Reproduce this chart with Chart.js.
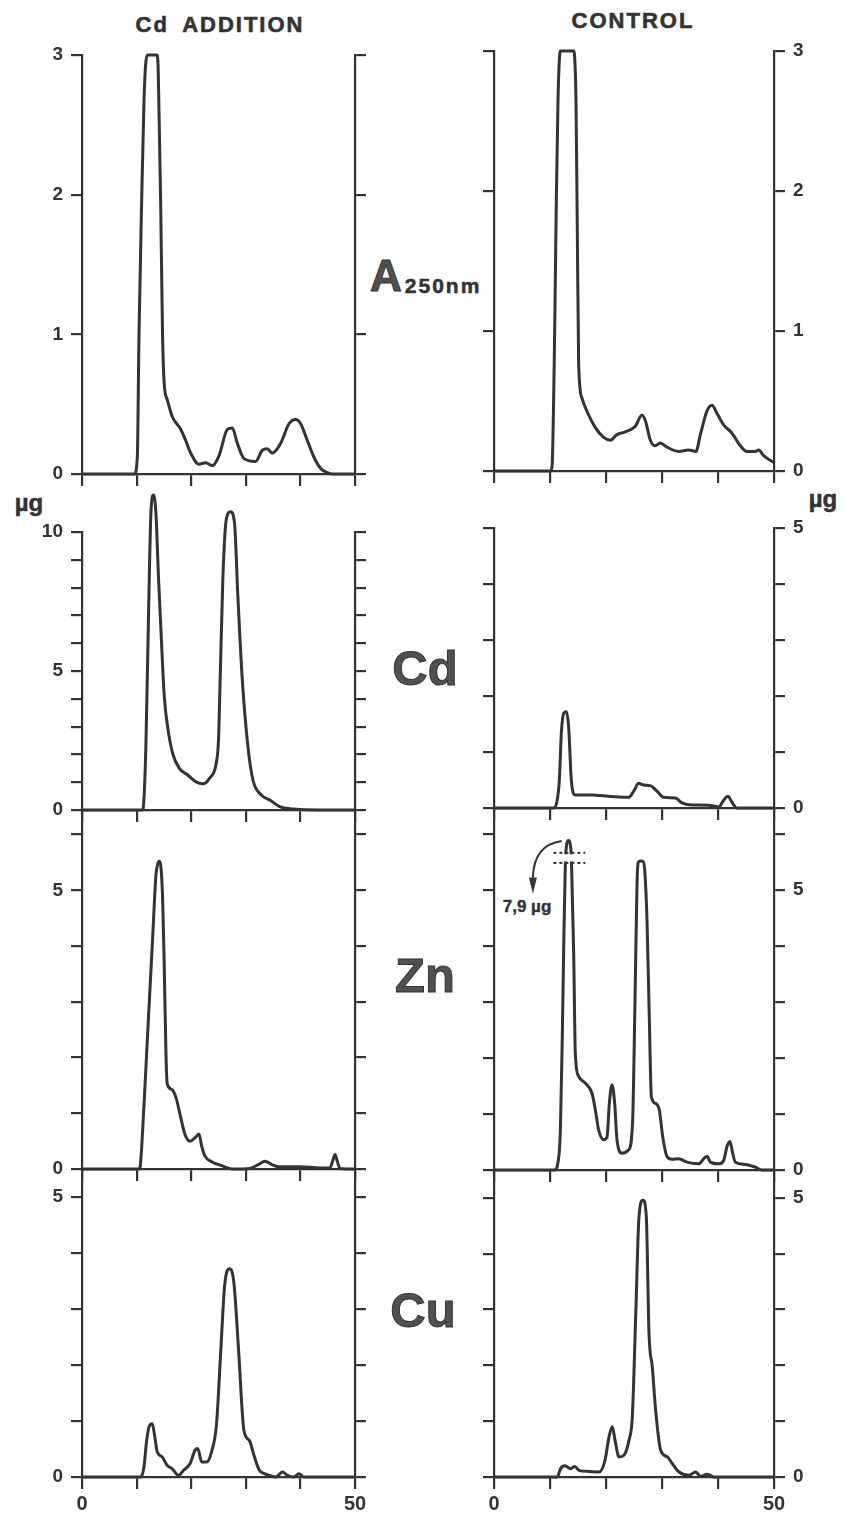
<!DOCTYPE html>
<html>
<head>
<meta charset="utf-8">
<title>Cd addition / control elution profiles</title>
<script src="https://cdn.jsdelivr.net/npm/chart.js@4.4.1/dist/chart.umd.min.js"></script>
<style>
  body { margin: 0; background: #fff; }
  #figure {
    position: relative; width: 844px; height: 1516px; overflow: hidden;
    font-family: "Liberation Sans", Arial, sans-serif; font-weight: bold; color: #333;
  }
  #figure canvas { position: absolute; }
  .label { position: absolute; transform: translate(-50%, -50%); white-space: nowrap; line-height: 1; }
  .title { font-size: 22px; letter-spacing: 2px; word-spacing: 6px; -webkit-text-stroke: 0.6px #333; }
  .metal { font-size: 49px; color: #505050; -webkit-text-stroke: 1px #333; }
  .unit { font-size: 24px; -webkit-text-stroke: 0.5px #333; }
  .note { font-size: 17px; -webkit-text-stroke: 0.4px #333; }
  .abs { left: 386px; top: 276px; font-size: 44px; color: #505050; -webkit-text-stroke: 1px #333; }
  .abs sub { font-size: 21px; letter-spacing: 2px; vertical-align: -0.1em; -webkit-text-stroke: 0.5px #333; color: #333; margin-left: 3px; }
</style>
</head>
<body>
<div id="figure">
  <div class="label title" style="left:220px; top:25px;">Cd ADDITION</div>
  <div class="label title" style="left:633px; top:21px;">CONTROL</div>
  <div class="label abs" style="transform:translate(-16px,-50%);">A<sub>250nm</sub></div>
  <div class="label metal" style="left:425px; top:668px;">Cd</div>
  <div class="label metal" style="left:425px; top:975px;">Zn</div>
  <div class="label metal" style="left:423px; top:1310px;">Cu</div>
  <div class="label unit" style="left:29px; top:503px;">µg</div>
  <div class="label unit" style="left:823px; top:499px;">µg</div>
  <div class="label note" style="left:527px; top:906px;">7,9 µg</div>
</div>
<script>
// fraction number (x) and reading (y) for every trace
const fracA250Add = [0, 9.6, 10.13, 10.44, 10.93, 11.36, 11.65, 11.97, 13.0, 13.75, 13.95, 14.1, 14.4, 14.75, 15.05, 15.63, 16.54, 18.07, 18.99, 19.9, 21.43, 22.65, 23.87, 25.09, 26.62, 27.53, 28.45, 29.67, 31.8, 33.03, 33.94, 34.86, 36.38, 37.91, 39.14, 40.05, 41.27, 42.49, 43.71, 44.93, 46, 50];
const a250Add = [0, 0, 0.12, 1.0, 1.96, 2.68, 2.93, 3.0, 3.0, 3.0, 2.9, 2.6, 1.96, 1.0, 0.65, 0.53, 0.41, 0.32, 0.24, 0.15, 0.07, 0.08, 0.06, 0.13, 0.32, 0.33, 0.22, 0.11, 0.09, 0.17, 0.18, 0.15, 0.22, 0.36, 0.39, 0.36, 0.24, 0.12, 0.04, 0.01, 0, 0];

const fracA250Ctrl = [0, 10.05, 10.36, 10.83, 11.13, 11.43, 11.65, 11.85, 14.23, 14.45, 14.64, 14.88, 15.12, 15.71, 16.9, 18.1, 19.58, 20.77, 21.96, 23.45, 25.24, 26.43, 27.02, 27.92, 28.8, 29.7, 30.9, 32.98, 34.77, 36.07, 36.85, 38.04, 38.93, 39.82, 41.01, 42.5, 43.99, 45.18, 46.67, 47.26, 48.15, 50];
const a250Ctrl = [0, 0, 0.03, 0.98, 1.94, 2.65, 2.92, 3.0, 3.0, 2.92, 2.65, 1.7, 0.76, 0.52, 0.4, 0.31, 0.24, 0.22, 0.26, 0.28, 0.32, 0.40, 0.36, 0.22, 0.18, 0.2, 0.17, 0.14, 0.15, 0.14, 0.26, 0.43, 0.47, 0.41, 0.33, 0.27, 0.18, 0.14, 0.14, 0.15, 0.11, 0.06];

const fracCdAdd = [0, 11.1, 11.21, 11.7, 12.19, 12.62, 13.1, 13.54, 14.03, 14.46, 15.07, 15.68, 16.6, 17.83, 19.36, 20.9, 22.11, 23.35, 24.58, 25.0, 25.3, 25.79, 26.41, 27.2, 27.94, 28.55, 29.36, 30.39, 31.31, 32.84, 34.38, 36.2, 38.66, 42.96, 50];
const cdAdd = [0, 0, 0.06, 2.28, 7.07, 10.67, 11.33, 10.67, 8.27, 6.47, 4.08, 3.0, 2.04, 1.5, 1.26, 1.01, 0.94, 1.14, 1.68, 2.52, 4.68, 8.27, 10.43, 10.73, 10.31, 7.67, 4.68, 2.28, 1.08, 0.54, 0.36, 0.12, 0.04, 0, 0];

const fracCdCtrl = [0, 10.66, 10.95, 11.67, 12.02, 12.44, 12.92, 13.33, 13.81, 14.52, 17.5, 20.48, 24.05, 24.95, 25.83, 26.73, 27.92, 29.11, 30.3, 32.38, 33.57, 34.77, 38.33, 40.12, 41.01, 41.79, 42.5, 43.39, 50];
const cdCtrl = [0, 0, 0.02, 0.5, 1.33, 1.69, 1.72, 1.45, 0.5, 0.23, 0.23, 0.21, 0.19, 0.3, 0.44, 0.41, 0.4, 0.3, 0.19, 0.18, 0.09, 0.06, 0.05, 0.02, 0.14, 0.21, 0.1, 0, 0];

const fracZnAdd = [0, 10.5, 10.62, 11.36, 12.14, 12.94, 13.55, 13.9, 14.16, 14.45, 14.75, 15.02, 15.38, 15.62, 16.43, 17.22, 17.95, 18.86, 19.78, 20.7, 21.43, 21.92, 22.53, 23.75, 25.59, 27.71, 30.77, 32.29, 33.52, 34.74, 35.95, 39.93, 43.59, 45.42, 45.9, 46.34, 46.76, 47.25, 50];
const znAdd = [0, 0, 0.02, 1.16, 2.65, 4.15, 5.28, 5.48, 5.52, 5.42, 4.9, 3.85, 2.05, 1.52, 1.43, 1.28, 0.98, 0.62, 0.5, 0.56, 0.63, 0.41, 0.23, 0.13, 0.06, 0, 0.01, 0.08, 0.14, 0.08, 0.04, 0.04, 0.02, 0.02, 0.14, 0.26, 0.14, 0.01, 0];

// the first control Zn peak reaches 7.9 µg and is shown on a broken scale
const fracZnCtrl = [0, 10.8, 11.4, 11.85, 12.2, 12.5, 12.72, 12.84, 13.3, 13.76, 13.87, 14.23, 14.52, 15.12, 16.31, 17.5, 18.1, 18.69, 19.58, 20.18, 20.6, 21.07, 21.55, 21.96, 22.86, 24.05, 24.76, 25.12, 25.42, 25.6, 25.85, 26.25, 26.65, 26.95, 27.32, 27.74, 28.1, 28.81, 29.52, 30.12, 30.89, 31.79, 32.98, 34.46, 36.55, 37.62, 38.1, 38.63, 40.12, 41.01, 41.61, 42.14, 42.62, 43.1, 44.88, 46.67, 47.86, 50];
const znCtrl = [0, 0, 0.12, 0.7, 2.4, 4.3, 5.36, 7.7, 7.9, 7.7, 5.36, 3.87, 2.08, 1.67, 1.55, 1.37, 1.07, 0.71, 0.54, 0.59, 1.19, 1.52, 1.19, 0.54, 0.3, 0.36, 0.89, 2.68, 4.46, 5.3, 5.8, 5.9, 5.8, 5.3, 4.46, 2.68, 1.31, 1.19, 1.07, 0.6, 0.24, 0.19, 0.2, 0.14, 0.11, 0.22, 0.24, 0.14, 0.11, 0.17, 0.42, 0.51, 0.3, 0.14, 0.1, 0.05, 0, 0];

const fracCuAdd = [0, 10.75, 11.35, 11.78, 12.26, 12.86, 13.35, 13.77, 14.67, 15.58, 16.49, 17.69, 18.6, 19.8, 20.71, 21.2, 21.92, 22.83, 23.73, 24.64, 25.42, 26.15, 27.05, 27.84, 28.68, 29.66, 30.67, 31.58, 32.49, 33.39, 34.3, 35.51, 36.72, 37.62, 38.83, 39.73, 40.63, 50];
const cuAdd = [0, 0, 0.18, 0.6, 0.89, 0.95, 0.71, 0.45, 0.36, 0.21, 0.15, 0.03, 0.12, 0.24, 0.48, 0.51, 0.27, 0.27, 0.45, 0.95, 2.26, 3.45, 3.72, 3.45, 2.26, 0.83, 0.65, 0.36, 0.12, 0.06, 0.03, 0, 0.09, 0.03, 0, 0.06, 0, 0];

const fracCuCtrl = [0, 11.3, 11.89, 12.67, 13.68, 14.45, 15.17, 16.96, 18.75, 19.82, 20.54, 21.13, 21.61, 22.32, 23.21, 24.11, 24.7, 25.3, 25.89, 26.61, 27.2, 27.68, 28.27, 28.86, 29.75, 30.95, 31.84, 33.04, 34.82, 36.01, 36.9, 38.1, 39.3, 50];
const cuCtrl = [0, 0, 0.15, 0.2, 0.15, 0.19, 0.12, 0.1, 0.09, 0.3, 0.72, 0.9, 0.66, 0.36, 0.39, 0.66, 1.08, 2.87, 4.66, 4.96, 4.66, 2.57, 1.97, 1.2, 0.48, 0.36, 0.24, 0.09, 0.03, 0.09, 0.01, 0.05, 0, 0];

// labelled ticks
const ticksA250 = [0, 1, 2, 3];
const ticksCdAdd = [0, 5, 10];
const ticksMicrogram = [0, 5];
const ticksFraction = [0, 50];

// broken y scale used for the big control Zn peak
const ZN_BREAK = { low: 5.48, gapTop: 5.66, high: 7.68 };
function znScale(v) {
  if (v <= ZN_BREAK.low) return v;
  if (v >= ZN_BREAK.high) return v - (ZN_BREAK.high - ZN_BREAK.gapTop);
  return ZN_BREAK.low + (v - ZN_BREAK.low) * (ZN_BREAK.gapTop - ZN_BREAK.low) / (ZN_BREAK.high - ZN_BREAK.low);
}

const INK = '#333';
const FONT = { family: '"Liberation Sans", Arial, sans-serif', weight: 'bold', size: 19 };
const AXIS_W = 44, X_AXIS_H = 38, PAD_TOP = 46, PAD_BOTTOM = 4, PAD_SIDE = 4;

// break marks and arrow over the truncated Zn peak
const znBreakMarks = {
  id: 'znBreakMarks',
  afterDatasetsDraw(chart) {
    const { ctx, scales: { x, y } } = chart;
    const yLo = y.getPixelForValue(ZN_BREAK.low);
    const yHi = y.getPixelForValue(ZN_BREAK.gapTop);
    ctx.save();
    ctx.fillStyle = '#fff';
    const mx0 = x.getPixelForValue(12.1), mx1 = x.getPixelForValue(14.5);
    ctx.fillRect(mx0, yHi + 1.5, mx1 - mx0, yLo - yHi - 3);
    ctx.strokeStyle = INK;
    ctx.lineWidth = 2;
    ctx.setLineDash([3, 3]);
    [yLo, yHi].forEach(py => {
      ctx.beginPath();
      ctx.moveTo(x.getPixelForValue(10.6), py);
      ctx.lineTo(x.getPixelForValue(16.3), py);
      ctx.stroke();
    });
    ctx.setLineDash([]);
    const sx = x.getPixelForValue(12.1), sy = y.getPixelForValue(5.87);
    const cx = x.getPixelForValue(7.1), cy = y.getPixelForValue(5.8);
    const ex = x.getPixelForValue(6.95), ey = y.getPixelForValue(5.22);
    ctx.beginPath();
    ctx.moveTo(sx, sy);
    ctx.quadraticCurveTo(cx, cy, ex, ey);
    ctx.stroke();
    const tip = y.getPixelForValue(4.93);
    ctx.fillStyle = INK;
    ctx.beginPath();
    ctx.moveTo(ex - 4, ey);
    ctx.lineTo(ex + 4, ey);
    ctx.lineTo(ex, tip);
    ctx.closePath();
    ctx.fill();
    ctx.restore();
  }
};

// box = chart area [left, top, right, bottom]; side = which axis carries the numbers
const panels = [
  { xs: fracA250Add, ys: a250Add, box: [82, 55, 355, 474], max: 3, side: 'left', yLabels: ticksA250 },
  { xs: fracA250Ctrl, ys: a250Ctrl, box: [494, 51, 774, 471], max: 3, side: 'right', yLabels: ticksA250 },
  { xs: fracCdAdd, ys: cdAdd, box: [82, 532, 355, 810], max: 10, side: 'left', yLabels: ticksCdAdd },
  { xs: fracCdCtrl, ys: cdCtrl, box: [494, 528, 774, 808], max: 5, side: 'right', yLabels: ticksMicrogram },
  { xs: fracZnAdd, ys: znAdd, box: [82, 810, 355, 1169], max: 6.44, side: 'left', yLabels: ticksMicrogram },
  { xs: fracZnCtrl, ys: znCtrl.map(znScale), box: [494, 808, 774, 1170], max: 6.46, side: 'right', yLabels: ticksMicrogram, plugins: [znBreakMarks] },
  { xs: fracCuAdd, ys: cuAdd, box: [82, 1169, 355, 1477], max: 5.5, side: 'left', yLabels: ticksMicrogram, xLabels: ticksFraction },
  { xs: fracCuCtrl, ys: cuCtrl, box: [494, 1170, 774, 1477], max: 5.5, side: 'right', yLabels: ticksMicrogram, xLabels: ticksFraction }
];

function yAxis(p, position) {
  const labelled = p.side === position;
  return {
    type: 'linear', position, min: 0, max: p.max,
    ticks: {
      stepSize: 1, includeBounds: false, autoSkip: false, padding: 8,
      color: INK, font: FONT,
      callback: v => (labelled && p.yLabels.includes(v)) ? String(v) : ''
    },
    grid: { drawOnChartArea: false, tickLength: 11, color: INK, lineWidth: 2.2 },
    border: { display: true, color: INK, width: 2.2 },
    afterFit: s => { s.width = AXIS_W; }
  };
}

const fig = document.getElementById('figure');

panels.forEach(p => {
  const [left, top, right, bottom] = p.box;
  const w = right - left + 2 * AXIS_W + 2 * PAD_SIDE;
  const h = bottom - top + PAD_TOP + PAD_BOTTOM + X_AXIS_H;
  const canvas = document.createElement('canvas');
  canvas.width = w;
  canvas.height = h;
  canvas.style.left = (left - AXIS_W - PAD_SIDE) + 'px';
  canvas.style.top = (top - PAD_TOP) + 'px';
  canvas.style.width = w + 'px';
  canvas.style.height = h + 'px';
  fig.appendChild(canvas);

  const xLabels = p.xLabels || [];
  new Chart(canvas, {
    type: 'line',
    data: {
      datasets: [{
        data: p.xs.map((x, i) => ({ x, y: p.ys[i] })),
        borderColor: INK,
        borderWidth: 3,
        pointRadius: 0,
        fill: false,
        cubicInterpolationMode: 'monotone',
        clip: false
      }]
    },
    options: {
      responsive: false,
      animation: false,
      devicePixelRatio: 1,
      layout: { padding: { top: PAD_TOP, bottom: PAD_BOTTOM, left: PAD_SIDE, right: PAD_SIDE } },
      plugins: { legend: { display: false }, tooltip: { enabled: false } },
      scales: {
        x: {
          type: 'linear', min: 0, max: 50,
          ticks: {
            stepSize: 10, autoSkip: false, maxRotation: 0, padding: 3,
            color: INK, font: { ...FONT, size: 20 },
            callback: v => xLabels.includes(v) ? String(v) : ''
          },
          grid: { drawOnChartArea: false, tickLength: 12, color: INK, lineWidth: 2.2 },
          border: { display: true, color: INK, width: 2.2 },
          afterFit: s => { s.height = X_AXIS_H; }
        },
        y: yAxis(p, 'left'),
        y2: yAxis(p, 'right')
      }
    },
    plugins: p.plugins || []
  });
});
</script>
</body>
</html>
